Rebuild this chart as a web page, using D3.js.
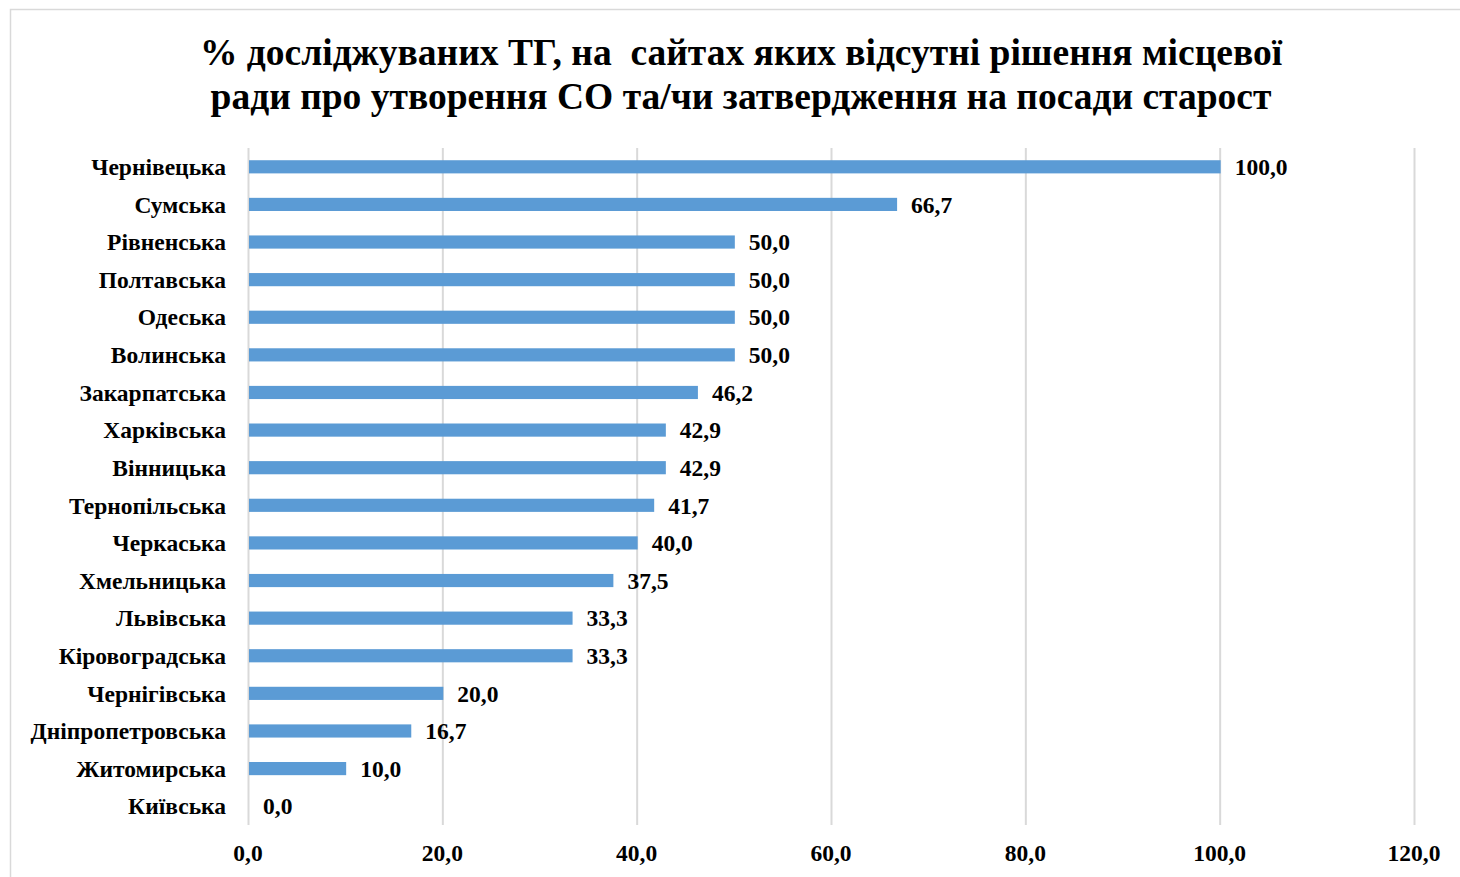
<!DOCTYPE html>
<html>
<head>
<meta charset="utf-8">
<script src="https://cdn.jsdelivr.net/npm/d3@7"></script>
<style>
  body { margin: 0; background: #fff; }
  text { font-family: "Liberation Serif", "Times New Roman", serif; font-weight: bold; fill: #000; }
</style>
</head>
<body>
<div id="chart"></div>
<script>
const regions = ['Чернівецька', 'Сумська', 'Рівненська', 'Полтавська', 'Одеська', 'Волинська',
  'Закарпатська', 'Харківська', 'Вінницька', 'Тернопільська', 'Черкаська', 'Хмельницька',
  'Львівська', 'Кіровоградська', 'Чернігівська', 'Дніпропетровська', 'Житомирська', 'Київська'];
const shares = [100.0, 66.7, 50.0, 50.0, 50.0, 50.0, 46.2, 42.9, 42.9, 41.7, 40.0, 37.5,
  33.3, 33.3, 20.0, 16.7, 10.0, 0.0];
const xTicks = [0, 20, 40, 60, 80, 100, 120];
const titleLines = ['% досліджуваних ТГ, на  сайтах яких відсутні рішення місцевої',
  'ради про утворення СО та/чи затвердження на посади старост'];

const width = 1460, height = 877;
const svg = d3.select('#chart').append('svg').attr('width', width).attr('height', height);

// chart frame
svg.append('rect').attr('x', 10.5).attr('y', 9.5).attr('width', 1500).attr('height', 1000)
  .attr('fill', 'none').attr('stroke', '#d9d9d9').attr('stroke-width', 1.5);

svg.append('g').selectAll('text').data(titleLines).enter().append('text')
  .attr('x', 741).attr('y', (d, i) => 65 + i * 44)
  .attr('text-anchor', 'middle').style('font-size', '37.5px')
  .style('white-space', 'pre')
  .text(d => d);

const x = d3.scaleLinear().domain([0, 120]).range([248, 1414]);
const y = d3.scaleBand().domain(regions).range([148, 825]).paddingInner(0.65).paddingOuter(0.325);

const fmt = v => d3.format('.1f')(v).replace('.', ',');

// gridlines
svg.append('g').selectAll('line').data(xTicks).enter().append('line')
  .attr('x1', d => x(d) + 0.5).attr('x2', d => x(d) + 0.5)
  .attr('y1', 148).attr('y2', 825)
  .attr('stroke', '#d9d9d9').attr('stroke-width', 2);

svg.append('g').selectAll('rect').data(shares).enter().append('rect')
  .attr('x', x(0) + 1).attr('y', (d, i) => y(regions[i]))
  .attr('width', d => Math.max(0, x(d) - x(0))).attr('height', y.bandwidth())
  .attr('fill', '#5b9bd5');

// value labels
svg.append('g').selectAll('text').data(shares).enter().append('text')
  .attr('x', d => x(d) + 15).attr('y', (d, i) => y(regions[i]) + y.bandwidth() / 2)
  .attr('dy', '0.35em').style('font-size', '23.5px')
  .text(d => fmt(d));

// category labels
svg.append('g').selectAll('text').data(regions).enter().append('text')
  .attr('x', 226).attr('y', d => y(d) + y.bandwidth() / 2)
  .attr('dy', '0.35em').attr('text-anchor', 'end').style('font-size', '23.5px')
  .text(d => d);

// x axis labels
svg.append('g').selectAll('text').data(xTicks).enter().append('text')
  .attr('x', d => x(d)).attr('y', 861)
  .attr('text-anchor', 'middle').style('font-size', '23.5px')
  .text(d => fmt(d));
</script>
</body>
</html>
